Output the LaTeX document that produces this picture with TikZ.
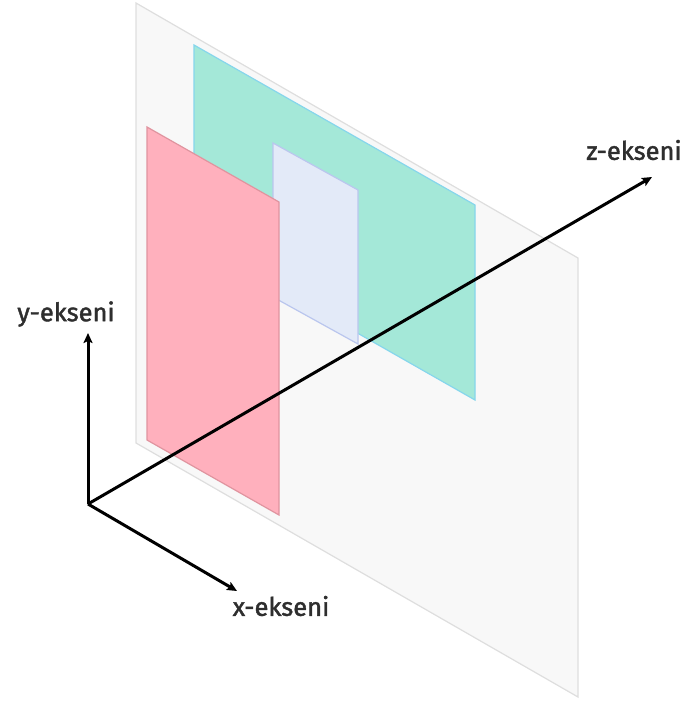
\documentclass[tikz,border=0pt]{standalone}
\usepackage{fontspec}
\setmainfont{Fira Sans}
\newfontfamily\axislabelfont{Fira Sans}[FakeBold=1.6]
\usetikzlibrary{arrows.meta}
\definecolor{backfill}{HTML}{F8F8F8}
\definecolor{backline}{HTML}{DEDEDE}
\definecolor{tealfill}{HTML}{A4E8D8}
\definecolor{tealline}{HTML}{86D6EC}
\definecolor{pinkfill}{HTML}{FFB0BD}
\definecolor{pinkline}{HTML}{E0949F}
\definecolor{lavfill}{HTML}{E3EAF8}
\definecolor{lavline}{HTML}{BAC6EE}
\definecolor{labeltext}{HTML}{2E2E2E}
\tikzset{
  plane/.style={line width=1.2pt, line join=miter},
  axis/.style={line width=3pt, -{Stealth[length=10pt,width=9pt,inset=2pt]}, black},
  axislabel/.style={font=\axislabelfont\fontsize{25.5}{27}\selectfont, text=labeltext, inner sep=0pt},
}
\begin{document}
\begin{tikzpicture}[x=1pt,y=-1pt]
\useasboundingbox (0,0) rectangle (692,702);
% back plane
\draw[plane, fill=backfill, draw=backline] (136,3) -- (578,258) -- (578,697) -- (136,443) -- cycle;
% teal plane
\draw[plane, fill=tealfill, draw=tealline] (194,45) -- (475,205) -- (475,400) -- (194,240) -- cycle;
% lavender plane
\draw[plane, fill=lavfill, draw=lavline] (273,143) -- (358,190) -- (358,344) -- (273,297) -- cycle;
% pink plane
\draw[plane, fill=pinkfill, draw=pinkline] (147,127) -- (279,202) -- (279,515) -- (147,440) -- cycle;
% axes
\coordinate (o) at (88,504);
\coordinate (ytip) at (88,333);
\coordinate (xtip) at (237,591);
\coordinate (ztip) at (652,177);
\draw[axis] (o) -- (ytip);
\draw[axis] (o) -- (xtip);
\draw[axis] (o) -- (ztip);
\node[axislabel] (ylab) at (66,314) {y-ekseni};
\node[axislabel] (xlab) at (281,606) {x-ekseni};
\node[axislabel] (zlab) at (634,150) {z-ekseni};
\end{tikzpicture}
\end{document}
